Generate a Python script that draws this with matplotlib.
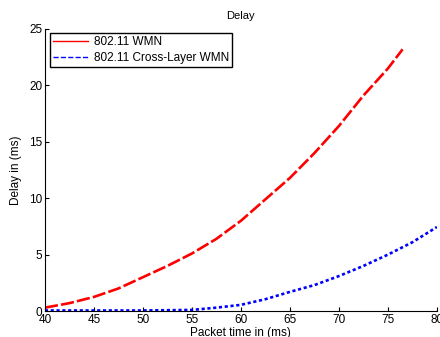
import matplotlib
matplotlib.use('Agg')
import matplotlib.pyplot as plt
from matplotlib.lines import Line2D

# values
t_wmn = [40, 42.5, 45, 47.5, 50, 52.5, 55, 57.5, 60, 62.5, 65, 67.5, 70, 72.5, 75, 76.5]
delay_wmn = [0.3, 0.7, 1.25, 2.0, 3.0, 4.0, 5.1, 6.4, 8.0, 9.9, 11.8, 14.0, 16.4, 19.1, 21.5, 23.2]

t_cross = [40, 45, 50, 55, 57.5, 60, 62.5, 65, 67.5, 70, 72.5, 75, 77.5, 80]
delay_cross = [0.05, 0.05, 0.05, 0.1, 0.3, 0.55, 1.05, 1.7, 2.3, 3.1, 4.0, 5.0, 6.1, 7.45]

labels = ['802.11 WMN', '802.11 Cross-Layer WMN']
xticks = [40, 45, 50, 55, 60, 65, 70, 75, 80]
yticks = [0, 5, 10, 15, 20, 25]


def plot_delay():
    plt.rcParams['font.family'] = ['Liberation Sans', 'DejaVu Sans']
    plt.rcParams['font.size'] = 8.5
    fig = plt.figure(figsize=(4.4, 3.37), dpi=100)
    ax = fig.add_axes([0.102, 0.077, 0.891, 0.837])

    ax.plot(t_wmn, delay_wmn, color='red', lw=1.9, ls=(0, (5, 1.2)))
    ax.plot(t_cross, delay_cross, color='blue', lw=1.9, ls=(0, (1.2, 1)))

    ax.set_xlim(40, 80)
    ax.set_ylim(0, 25)
    ax.set_xticks(xticks)
    ax.set_yticks(yticks)
    ax.tick_params(direction='in', length=3, width=0.8, pad=2)
    for side in ['top', 'right']:
        ax.spines[side].set_visible(False)
    ax.spines['left'].set_linewidth(0.8)
    ax.spines['bottom'].set_linewidth(0.8)

    ax.set_title('Delay', fontsize=8, pad=7)
    ax.set_xlabel('Packet time in (ms)', labelpad=1)
    ax.set_ylabel('Delay in (ms)', labelpad=5)

    handles = [Line2D([], [], color='red', lw=1),
               Line2D([], [], color='blue', lw=1, ls='--')]
    leg = ax.legend(handles, labels, loc='upper left', bbox_to_anchor=(0.012, 0.985),
                    fancybox=False, edgecolor='black', framealpha=1,
                    handlelength=3.0, borderpad=0.25, labelspacing=0.35,
                    handletextpad=0.5, borderaxespad=0)
    leg.get_frame().set_linewidth(1.0)

    fig.savefig('out.png', dpi=100)


if __name__ == '__main__':
    plot_delay()
